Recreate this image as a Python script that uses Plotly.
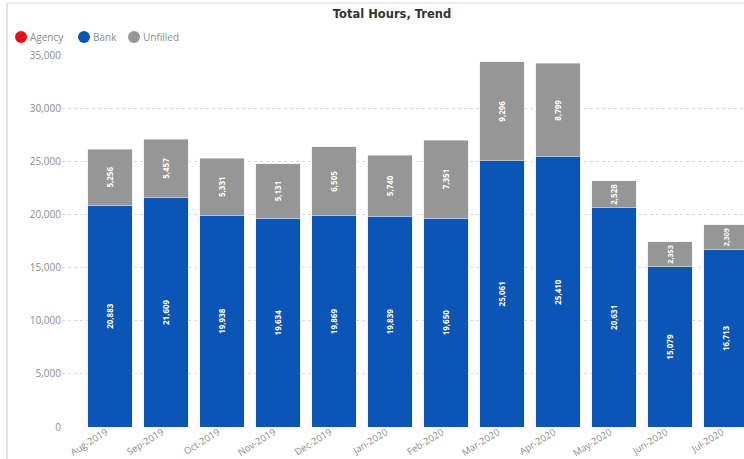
import plotly.graph_objects as go

months = ["Aug-2019", "Sep-2019", "Oct-2019", "Nov-2019", "Dec-2019", "Jan-2020",
          "Feb-2020", "Mar-2020", "Apr-2020", "May-2020", "Jun-2020", "Jul-2020"]
bank = [20883, 21609, 19938, 19634, 19869, 19839, 19650, 25061, 25410, 20631, 15079, 16713]
unfilled = [5256, 5457, 5331, 5131, 6505, 5740, 7351, 9296, 8799, 2528, 2353, 2309]
y_ticks = [0, 5000, 10000, 15000, 20000, 25000, 30000, 35000]
legend_names = ["Agency", "Bank", "Unfilled"]

BANK_COLOR = "#0A55B6"
UNFILLED_COLOR = "#969696"
AGENCY_COLOR = "#E3101E"
legend_colors = [AGENCY_COLOR, BANK_COLOR, UNFILLED_COLOR]
FONT = "Open Sans"

W, H = 744, 459
ML, MT, MB = 62, 55, 32
PW, PH = W - ML, H - MT - MB


def px_x(px):
    return (px - ML) / PW


def px_y(py):
    return (H - MB - py) / PH


fig = go.Figure()

label_font = dict(family=FONT, size=8, color="white", weight="bold")

fig.add_trace(go.Bar(
    x=months, y=bank, name="Bank", marker_color=BANK_COLOR,
    text=[f"{v:,}" for v in bank], textposition="inside", insidetextanchor="middle",
    textangle=-90, textfont=label_font, showlegend=False,
))
fig.add_trace(go.Bar(
    x=months, y=unfilled, name="Unfilled", marker_color=UNFILLED_COLOR,
    text=[f"{v:,}" for v in unfilled], textposition="inside", insidetextanchor="middle",
    textangle=-90, textfont=label_font, showlegend=False,
))

fig.update_layout(
    width=W, height=H,
    barmode="stack", bargap=0.2,
    showlegend=False,
    plot_bgcolor="white", paper_bgcolor="white",
    margin=dict(l=ML, r=0, t=MT, b=MB, autoexpand=False),
    font=dict(family=FONT, color="#888888", size=10),
    title=dict(text="<b>Total Hours, Trend</b>", x=392 / W, xanchor="center", xref="container",
               y=1 - 14 / H, yanchor="middle",
               font=dict(family="DejaVu Sans", size=11.5, color="#333333")),
    xaxis=dict(range=[-0.857, -0.857 + PW / 56], tickangle=-32, showgrid=False,
               showline=False, ticks="", tickfont=dict(size=9.5, color="#8C8C8C"),
               ticklabelshift=-4, ticklabelstandoff=-3, automargin=False),
    yaxis=dict(range=[0, 35000], tickvals=y_ticks, tickformat=",", showgrid=True,
               gridcolor="#D8D8D8", griddash="dot", gridwidth=1, zeroline=False,
               showline=False, ticks="", tickfont=dict(size=10, color="#8C8C8C"),
               automargin=False),
)

# compact legend row: round swatch followed by its label
legend_x = [21, 84, 134]
for name, color, cx in zip(legend_names, legend_colors, legend_x):
    r = 6
    fig.add_shape(type="circle", xref="paper", yref="paper",
                  x0=px_x(cx - r), x1=px_x(cx + r), y0=px_y(37 + r), y1=px_y(37 - r),
                  fillcolor=color, line=dict(width=0))
    fig.add_annotation(text=name, xref="paper", yref="paper", x=px_x(cx + r + 1), y=px_y(37),
                       xanchor="left", yanchor="middle", showarrow=False,
                       font=dict(family=FONT, size=10, color="#8C8C8C"))

# container border along the left and top edges
fig.add_shape(type="line", xref="paper", yref="paper", x0=px_x(7), x1=px_x(7),
              y0=px_y(H), y1=px_y(3), line=dict(color="#C8C8C8", width=1))
fig.add_shape(type="line", xref="paper", yref="paper", x0=px_x(7), x1=px_x(W),
              y0=px_y(3), y1=px_y(3), line=dict(color="#DADADA", width=1))

fig.write_html("out.html")
